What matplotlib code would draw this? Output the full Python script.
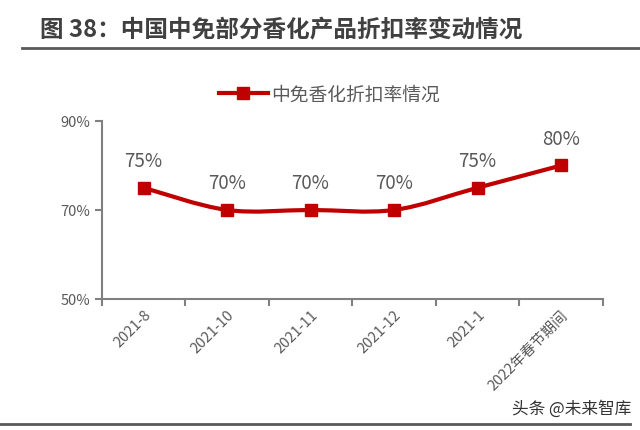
import matplotlib.pyplot as plt
from matplotlib.path import Path
from matplotlib.patches import PathPatch
from matplotlib.lines import Line2D
import numpy as np

plt.rcParams['font.family'] = ['Noto Sans CJK SC', 'DejaVu Sans']

periods = ["2021-8", "2021-10", "2021-11", "2021-12", "2021-1", "2022年春节期间"]
discount = [75, 70, 70, 70, 75, 80]
series_name = "中免香化折扣率情况"
red = "#C00000"
grey = "#595959"

fig = plt.figure(figsize=(6.4, 4.31), dpi=100)
ax = fig.add_axes([0.159, 0.304, 0.783, 0.413])

x = np.arange(len(periods))
y = np.array(discount, dtype=float)

# smooth curve via Catmull-Rom -> cubic Bezier segments
verts = [(x[0], y[0])]
codes = [Path.MOVETO]
for i in range(len(x) - 1):
    p0 = (x[max(i - 1, 0)], y[max(i - 1, 0)])
    p1 = (x[i], y[i])
    p2 = (x[i + 1], y[i + 1])
    p3 = (x[min(i + 2, len(x) - 1)], y[min(i + 2, len(x) - 1)])
    c1 = (p1[0] + (p2[0] - p0[0]) / 6, p1[1] + (p2[1] - p0[1]) / 6)
    c2 = (p2[0] - (p3[0] - p1[0]) / 6, p2[1] - (p3[1] - p1[1]) / 6)
    verts += [c1, c2, p2]
    codes += [Path.CURVE4] * 3
ax.add_patch(PathPatch(Path(verts, codes), facecolor="none", edgecolor=red,
                       lw=3, capstyle="round", zorder=3))
ax.plot(x, y, ls="none", marker="s", ms=9, color=red, zorder=4)

for xi, yi in zip(x, discount):
    ax.annotate(f"{yi}%", (xi, yi), xytext=(0, 12), textcoords="offset points",
                ha="center", va="bottom", fontsize=13.5, color=grey)

ax.set_xlim(-0.5, len(periods) - 0.5)
ax.set_ylim(50, 90)
ax.set_yticks([50, 70, 90])
ax.set_yticklabels(["50%", "70%", "90%"])
ax.set_xticks(np.arange(-0.5, len(periods)))
ax.set_xticklabels([])
ax.set_xticks(x, minor=True)
ax.set_xticklabels(periods, minor=True, rotation=45, ha="right",
                   rotation_mode="anchor", fontsize=10.5, color=grey)
ax.tick_params(axis="x", which="minor", length=0, pad=6)
ax.tick_params(axis="x", which="major", length=5, width=1.5, color="#808080", direction="out")
ax.tick_params(axis="y", length=5, width=1.5, color="#808080", labelsize=10.5, labelcolor=grey)
for s in ["top", "right"]:
    ax.spines[s].set_visible(False)
for s in ["left", "bottom"]:
    ax.spines[s].set_color("#808080")
    ax.spines[s].set_linewidth(1.5)

handle = Line2D([], [], color=red, lw=3, marker="s", ms=8)
fig.legend([handle], [series_name], loc="center", bbox_to_anchor=(0.515, 0.78),
           frameon=False, fontsize=13.5, labelcolor=grey, handlelength=2.6,
           handletextpad=0.2)

fig.text(0.062, 0.93, "图 38：中国中免部分香化产品折扣率变动情况", fontsize=17,
         fontweight="bold", color="#404040", va="center")
fig.add_artist(Line2D([0.034, 1.0], [0.886, 0.886], color="#595959", lw=2))
fig.add_artist(Line2D([0.0, 0.985], [0.014, 0.014], color="#595959", lw=2))
fig.text(0.8, 0.05, "头条 @未来智库", fontsize=12, color="#333333", va="center")

fig.savefig("out.png", dpi=100)
